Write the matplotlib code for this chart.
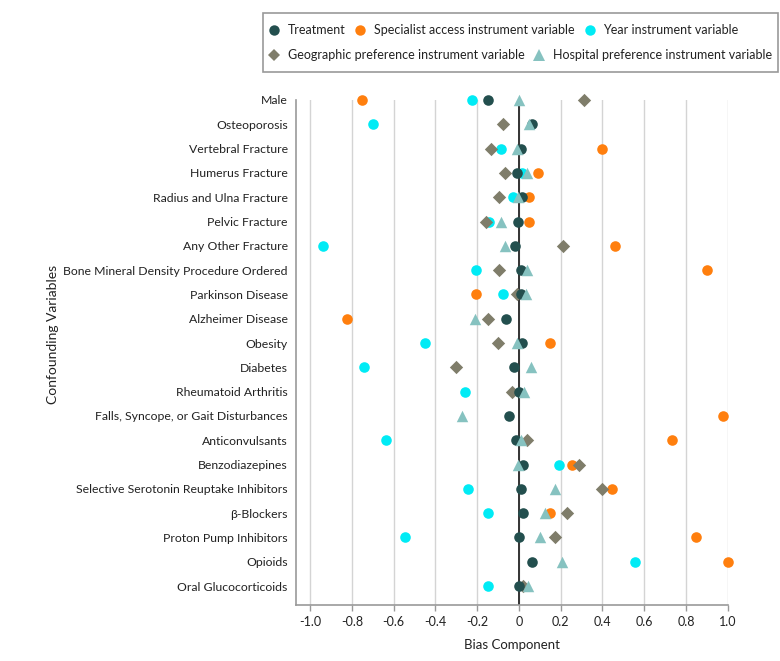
import numpy as np
import matplotlib
matplotlib.use("Agg")
import matplotlib.pyplot as plt
from matplotlib.lines import Line2D
from matplotlib.patches import Rectangle

plt.rcParams['font.family'] = ['Lato', 'DejaVu Sans']
plt.rcParams['axes.unicode_minus'] = False

nan = np.nan

categories = [
    "Male", "Osteoporosis", "Vertebral Fracture", "Humerus Fracture",
    "Radius and Ulna Fracture", "Pelvic Fracture", "Any Other Fracture",
    "Bone Mineral Density Procedure Ordered", "Parkinson Disease",
    "Alzheimer Disease", "Obesity", "Diabetes", "Rheumatoid Arthritis",
    "Falls, Syncope, or Gait Disturbances", "Anticonvulsants",
    "Benzodiazepines", "Selective Serotonin Reuptake Inhibitors",
    "β-Blockers", "Proton Pump Inhibitors", "Opioids", "Oral Glucocorticoids",
]

treatment = [-0.148, 0.064, 0.011, -0.010, 0.014, -0.006, -0.021, 0.011, 0.008, -0.062, 0.016,
             -0.026, 0.000, -0.046, -0.013, 0.019, 0.011, 0.021, 0.002, 0.062, 0.002]
specialist = [-0.750, nan, 0.400, 0.091, 0.048, 0.046, 0.461, 0.900, -0.204, -0.825, 0.150,
              nan, nan, 0.977, 0.734, 0.252, 0.445, 0.150, 0.848, 1.000, nan]
year = [-0.223, -0.700, -0.086, 0.014, -0.029, -0.145, -0.940, -0.204, -0.078, nan, -0.450,
        -0.740, -0.258, nan, -0.638, 0.190, -0.245, -0.147, -0.546, 0.557, -0.147]
geographic = [0.310, -0.078, -0.136, -0.065, -0.094, -0.158, 0.210, -0.094, -0.010, -0.147, -0.100,
              -0.300, -0.033, nan, 0.040, 0.290, 0.400, 0.230, 0.172, nan, 0.019]
hospital = [0.000, 0.050, -0.010, 0.038, -0.005, -0.086, -0.067, 0.040, 0.035, -0.212, -0.008,
            0.056, 0.024, -0.274, 0.011, -0.003, 0.174, 0.126, 0.102, 0.206, 0.041]

xticks = [-1.0, -0.8, -0.6, -0.4, -0.2, 0.0, 0.2, 0.4, 0.6, 0.8, 1.0]
xticklabels = ["-1.0", "-0.8", "-0.6", "-0.4", "-0.2", "0", "0.2", "0.4", "0.6", "0.8", "1.0"]

c_treat = "#234f4e"
c_spec = "#ff7f0e"
c_year = "#00ebf5"
c_geo = "#7f7d6a"
c_hosp = "#86c2c0"
txt = "#222222"

fig = plt.figure(figsize=(7.8, 6.61), dpi=100)
ax = fig.add_axes([296 / 780, 1 - 605 / 661, (727.7 - 296) / 780, (605 - 100) / 661])

y = np.arange(len(categories))
ms = 58

ax.scatter(year, y, s=ms, color=c_year, marker='o', zorder=3, clip_on=False, linewidths=0)
ax.scatter(specialist, y, s=ms, color=c_spec, marker='o', zorder=4, clip_on=False, linewidths=0)
ax.scatter(geographic, y, s=46, color=c_geo, marker='D', zorder=5, clip_on=False, linewidths=0)
ax.scatter(treatment, y, s=ms, color=c_treat, marker='o', zorder=6, clip_on=False, linewidths=0)
ax.scatter(hospital, y, s=68, color=c_hosp, marker='^', zorder=7, clip_on=False, linewidths=0)

ax.set_xlim(-1.068, 1.0)
ax.set_ylim(20.78, 0)
ax.set_yticks(y)
ax.set_yticklabels(categories, fontsize=8.8, color=txt)
ax.set_xticks(xticks)
ax.set_xticklabels(xticklabels, fontsize=9, color=txt)
ax.tick_params(axis='y', length=0, pad=6)
ax.tick_params(axis='x', length=4, width=1, color='#999999', pad=4)

ax.grid(axis='x', color='#d4d4d4', lw=1)
ax.set_axisbelow(True)
ax.axvline(0, color='#333333', lw=1.4, zorder=2.5)

for s in ['top', 'right']:
    ax.spines[s].set_visible(False)
for s in ['left', 'bottom']:
    ax.spines[s].set_color('#999999')
    ax.spines[s].set_linewidth(1.2)

ax.set_xlabel("Bias Component", fontsize=9.5, color=txt, labelpad=8)
ax.set_ylabel("Confounding Variables", fontsize=10, color=txt)
ax.yaxis.set_label_coords(-0.55, 0.535)

# legend, drawn as two rows inside one box
def handle(color, marker, size):
    return Line2D([], [], color=color, marker=marker, ls='', markersize=size, markeredgewidth=0)

row1 = [handle(c_treat, 'o', 7.5), handle(c_spec, 'o', 7.5), handle(c_year, 'o', 7.5)]
row1_lab = ["Treatment", "Specialist access instrument variable", "Year instrument variable"]
row2 = [handle(c_geo, 'D', 6.5), handle(c_hosp, '^', 8)]
row2_lab = ["Geographic preference instrument variable", "Hospital preference instrument variable"]

common = dict(frameon=False, handlelength=1.0, handletextpad=0.6, columnspacing=0.7,
              borderpad=0, borderaxespad=0, fontsize=9, labelcolor=txt, loc='center left')
fig.legend(row1, row1_lab, ncol=3, bbox_to_anchor=(267.5 / 780, 1 - 30 / 661), **common)
fig.legend(row2, row2_lab, ncol=2, bbox_to_anchor=(267.5 / 780, 1 - 55 / 661), **common)
fig.patches.append(Rectangle((263 / 780, 1 - 72 / 661), (778 - 263) / 780, (72 - 13) / 661,
                             transform=fig.transFigure, fill=False, edgecolor='#999999', lw=1.2))

fig.savefig("out.png", dpi=100)
